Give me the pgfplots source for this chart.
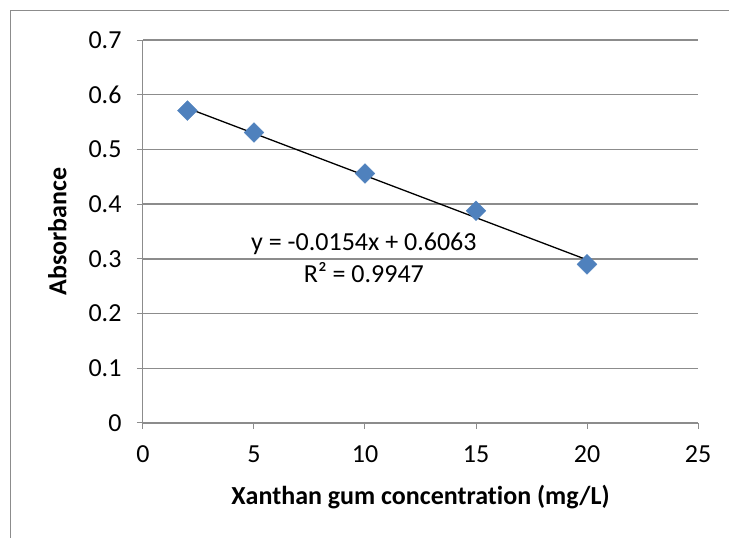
\documentclass[border=0pt]{standalone}
\usepackage{fontspec}
\setmainfont{Carlito}[Ligatures=NoCommon]
\usepackage{pgfplots}
\pgfplotsset{compat=1.18}
\definecolor{xlblue}{HTML}{4F81BD}
\definecolor{xlgrid}{HTML}{8C8C8C}
\begin{document}
\begin{tikzpicture}[x=1pt,y=1pt]
\path[use as bounding box] (0,0) rectangle (729,538);
% chart area frame (only left and top are visible)
\draw[xlgrid,line width=1pt] (10,0) -- (10,527) -- (729,527);
\begin{axis}[
  at={(143pt,115pt)}, anchor=south west,
  scale only axis,
  width=555pt, height=383pt,
  font=\fontsize{26}{31}\selectfont,
  /pgf/number format/assume math mode=true,
  xmin=0, xmax=25, ymin=0, ymax=0.7,
  xtick={0,5,...,25},
  ytick={0,0.1,...,0.7},
  axis x line*=bottom, axis y line*=left,
  axis line style={xlgrid,line width=1pt,-},
  tick style={xlgrid,line width=1pt},
  tick align=outside,
  major tick length=6pt,
  ymajorgrids,
  grid style={xlgrid,line width=1.3pt},
  xticklabel style={yshift=-13pt},
  yticklabel style={xshift=-12pt,/pgf/number format/fixed,/pgf/number format/precision=1},
  xlabel={\bfseries Xanthan gum concentration (mg/L)},
  ylabel={\bfseries Absorbance},
  xlabel style={yshift=-16pt},
  ylabel style={yshift=15pt},
  clip=false,
]
% linear trendline y = -0.0154x + 0.6063
\addplot[black, line width=1.3pt] coordinates {(2,0.5755) (20,0.2983)};
\addplot[only marks, mark=square*, mark size=7pt,
  mark options={rotate=45, fill=xlblue, draw=xlblue}] coordinates {
  (2,0.571) (5,0.531) (10,0.456) (15,0.388) (20,0.290)
};
\node[align=center, font=\fontsize{26}{32}\selectfont] at (axis cs:9.95,0.302)
  {y = -0.0154x + 0.6063\\R² = 0.9947};
\end{axis}
\end{tikzpicture}
\end{document}
